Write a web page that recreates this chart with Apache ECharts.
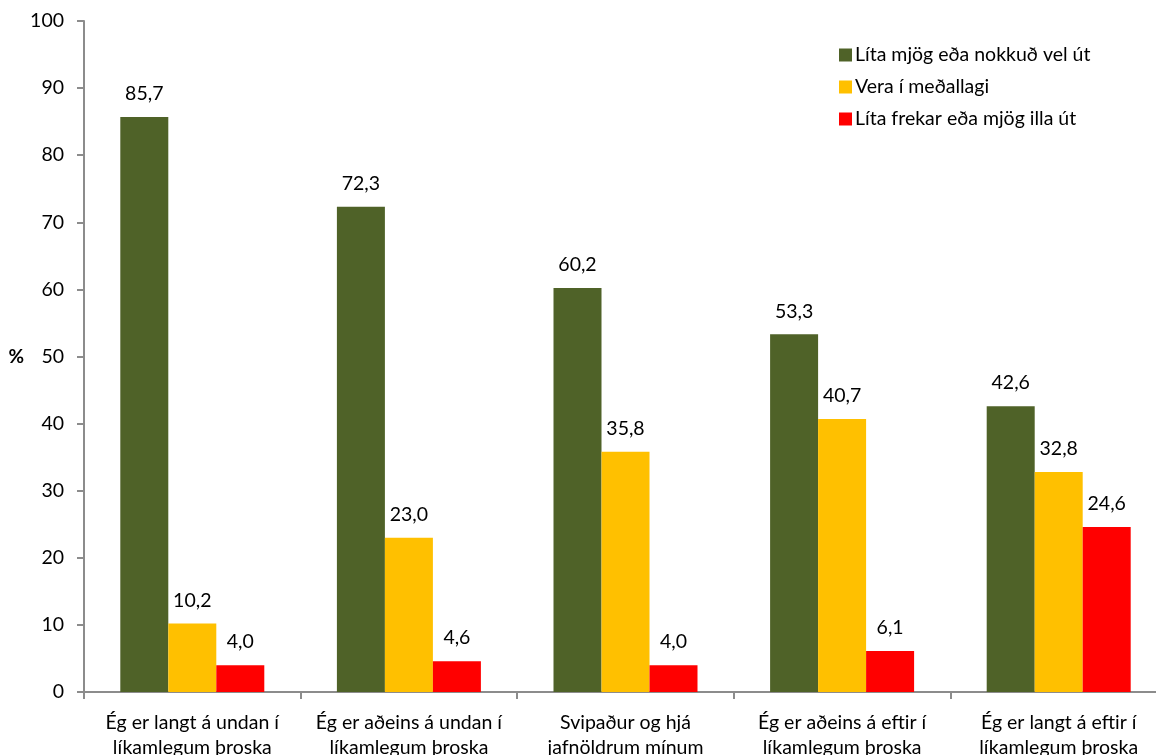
<!DOCTYPE html>
<html><head><meta charset="utf-8">
<script src="https://cdn.jsdelivr.net/npm/echarts@6/dist/echarts.min.js"></script>
<style>html,body{margin:0;padding:0;background:#fff;width:1156px;height:755px;overflow:hidden}#c{width:1156px;height:755px}</style>
</head><body><div id="c"></div>
<script>
const categories = ["Ég er langt á undan í\nlíkamlegum þroska","Ég er aðeins á undan í\nlíkamlegum þroska","Svipaður og hjá\njafnöldrum mínum","Ég er aðeins á eftir í\nlíkamlegum þroska","Ég er langt á eftir í\nlíkamlegum þroska"];
const seriesNames = ["Líta mjög eða nokkuð vel út","Vera í meðallagi","Líta frekar eða mjög illa út"];
const good = [85.7,72.3,60.2,53.3,42.6];
const average = [10.2,23.0,35.8,40.7,32.8];
const bad = [4.0,4.6,4.0,6.1,24.6];
const colors = ["#4F6228","#FFC000","#FF0000"];
const FONT = "Lato";
const FS = 19.5;
const chart = echarts.init(document.getElementById('c'));
const lbl = {show:true, position:'top', distance:13, color:'#000', fontFamily:FONT, fontSize:FS,
  formatter: p => p.value.toFixed(1).replace('.', ',')};
chart.setOption({
  animation:false,
  textStyle:{fontFamily:FONT},
  grid:{left:84, width:1083, top:21, height:671, containLabel:false, outerBoundsMode:'none'},
  legend:{show:true, orient:'vertical', left:834, top:40, itemWidth:13, itemHeight:13, itemGap:12,
    icon:'rect', textStyle:{fontFamily:FONT, fontSize:FS, color:'#000', padding:[0,0,0,-2]}, data:seriesNames},
  xAxis:{type:'category', data:categories,
    axisLine:{lineStyle:{color:'#8c8c8c', width:2}},
    axisTick:{show:true, alignWithLabel:false, length:7, lineStyle:{color:'#8c8c8c', width:2}},
    axisLabel:{color:'#000', fontSize:FS, fontFamily:FONT, margin:18, lineHeight:25, interval:0}},
  yAxis:{type:'value', min:0, max:100, interval:10,
    name:'%', nameLocation:'middle', nameGap:59, nameRotate:0,
    nameTextStyle:{fontFamily:FONT, fontSize:19, fontWeight:'bold', color:'#000'},
    axisLine:{show:true, lineStyle:{color:'#8c8c8c', width:2}},
    axisTick:{show:true, length:7, lineStyle:{color:'#8c8c8c', width:2}},
    splitLine:{show:false},
    axisLabel:{color:'#000', fontSize:FS, fontFamily:FONT, margin:20}},
  series:[
    {name:seriesNames[0], type:'bar', data:good, itemStyle:{color:colors[0]}, barWidth:48, barGap:'0%', label:lbl},
    {name:seriesNames[1], type:'bar', data:average, itemStyle:{color:colors[1]}, barWidth:48, barGap:'0%', label:lbl},
    {name:seriesNames[2], type:'bar', data:bad, itemStyle:{color:colors[2]}, barWidth:48, barGap:'0%', label:lbl}
  ]
});
</script></body></html>
